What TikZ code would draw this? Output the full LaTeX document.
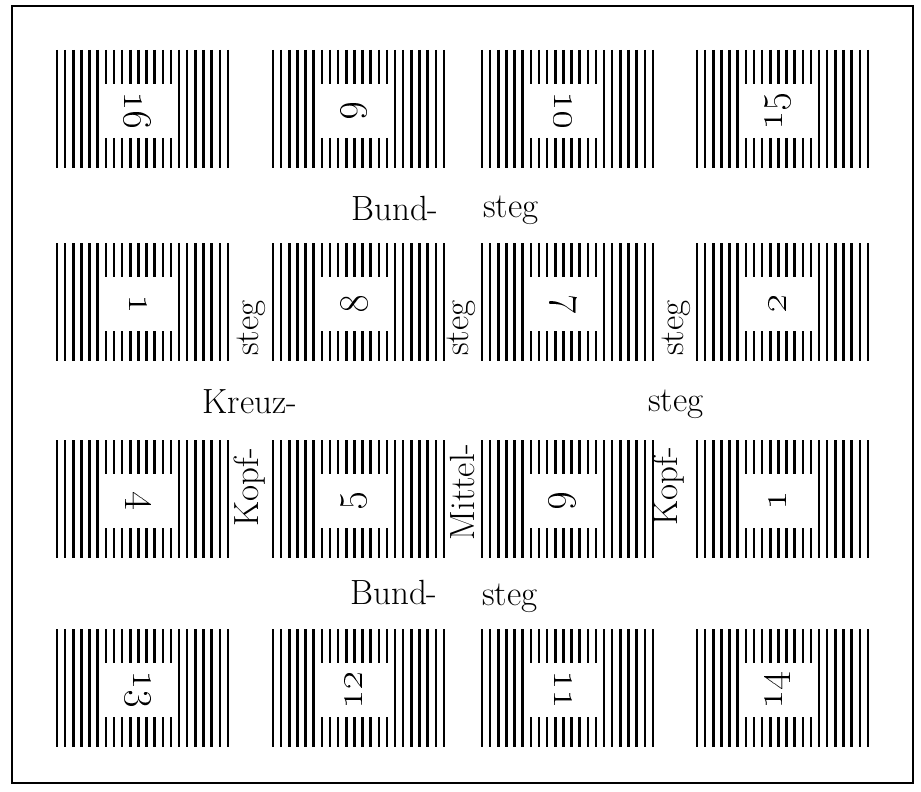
\documentclass[tikz,border=0pt]{standalone}
\tikzset{
  rule/.style={line width=1.25pt,black},
  framebox/.style={line width=1pt,black},
  lbl/.style={inner sep=0pt,font=\fontsize{17.5}{19}\selectfont},
  num/.style={inner sep=0pt,font=\fontsize{19.5}{22}\selectfont},
}
\newcommand\pageblock[5]{%
  \foreach \i in {0,...,21}{%
    \pgfmathsetmacro\xx{#1+\i*8.14}%
    \ifnum\i<6
      \draw[rule] (\xx,#2) -- (\xx,#2+118);
    \else\ifnum\i>14
      \draw[rule] (\xx,#2) -- (\xx,#2+118);
    \else
      \draw[rule] (\xx,#2) -- (\xx,#2+34);
      \draw[rule] (\xx,#2+88) -- (\xx,#2+118);
    \fi\fi
  }%
  \node[num,rotate=#4] (#5) at (#1+81,#2+61) {\oldstylenums{#3}};
}
\begin{document}
\begin{tikzpicture}[x=0.5pt,y=-0.5pt]
\useasboundingbox (0,0) rectangle (921,792);
\draw[framebox] (12,6) rectangle (913,783);
% row 1
\pageblock{57}{50}{16}{-90}{p16}
\pageblock{273}{50}{9}{90}{p9}
\pageblock{482}{50}{10}{-90}{p10}
\pageblock{697}{50}{15}{90}{p15}
% row 2
\pageblock{57}{243}{1}{-90}{p1}
\pageblock{273}{243}{8}{90}{p8}
\pageblock{482}{243}{7}{-90}{p7}
\pageblock{697}{243}{2}{90}{p2}
% row 3
\pageblock{57}{440}{4}{-90}{p4}
\pageblock{273}{440}{5}{90}{p5}
\pageblock{482}{440}{6}{-90}{p6}
\pageblock{697}{440}{1}{90}{p3}
% row 4
\pageblock{57}{629}{13}{-90}{p13}
\pageblock{273}{629}{12}{90}{p12}
\pageblock{482}{629}{11}{-90}{p11}
\pageblock{697}{629}{14}{90}{p14}
% labels
\node[lbl] (bundA) at (395,208) {Bund-};
\node[lbl] (stegA) at (511,210) {steg};
\node[lbl,rotate=90] (stegB) at (251,328) {steg};
\node[lbl,rotate=90] (stegC) at (461,328) {steg};
\node[lbl,rotate=90] (stegD) at (676,328) {steg};
\node[lbl] (kreuz) at (250,402) {Kreuz-};
\node[lbl] (stegE) at (676,404) {steg};
\node[lbl,rotate=90] (kopfA) at (250,487) {Kopf-};
\node[lbl,rotate=90] (mittel) at (462,492) {Mittel-};
\node[lbl,rotate=90] (kopfB) at (669,486) {Kopf-};
\node[lbl] (bundB) at (394,592) {Bund-};
\node[lbl] (stegF) at (510,598) {steg};
\end{tikzpicture}
\end{document}
